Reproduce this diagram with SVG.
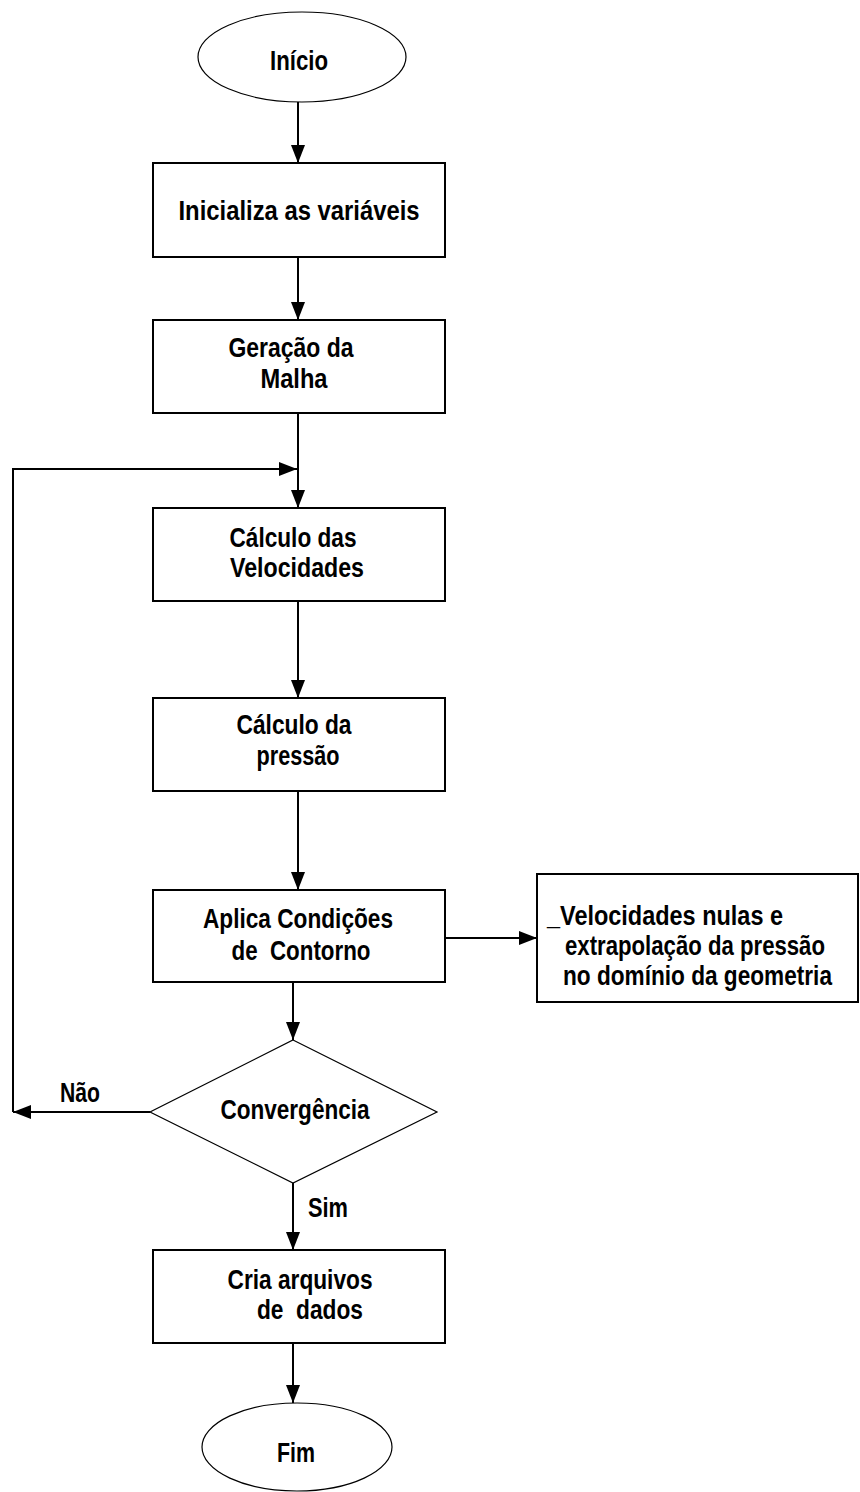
<svg xmlns="http://www.w3.org/2000/svg" width="860" height="1492" viewBox="0 0 860 1492">
<style>
  .bg{fill:#fff}
  .box{fill:#fff;stroke:#000;stroke-width:2}
  .thin{fill:#fff;stroke:#000;stroke-width:1.2}
  .con{fill:none;stroke:#000;stroke-width:2}
  text{font-family:"Liberation Sans Narrow","Liberation Sans",Arial,sans-serif;font-weight:bold;font-size:28px;fill:#000;white-space:pre}
  .c{text-anchor:middle}
</style>
<defs>
  <marker id="ah" viewBox="0 0 18 14" refX="18" refY="7" markerWidth="18" markerHeight="14" markerUnits="userSpaceOnUse" orient="auto">
    <path d="M0,0 L18,7 L0,14 z" fill="#000"/>
  </marker>
</defs>
<rect class="bg" x="0" y="0" width="860" height="1492"/>

<g id="connectors">
  <path class="con" d="M298,102 V163" marker-end="url(#ah)"/>
  <path class="con" d="M298,257 V320" marker-end="url(#ah)"/>
  <path class="con" d="M298,413 V508" marker-end="url(#ah)"/>
  <path class="con" d="M298,601 V698" marker-end="url(#ah)"/>
  <path class="con" d="M298,791 V890" marker-end="url(#ah)"/>
  <path class="con" d="M445,938 H537" marker-end="url(#ah)"/>
  <path class="con" d="M293,982 V1040" marker-end="url(#ah)"/>
  <path class="con" d="M150,1112 H13" marker-end="url(#ah)"/>
  <path class="con" d="M13,1112 V469 H297" marker-end="url(#ah)"/>
  <path class="con" d="M293,1183 V1250" marker-end="url(#ah)"/>
  <path class="con" d="M293,1343 V1403" marker-end="url(#ah)"/>
  <text class="c" x="80" y="1102" textLength="40" lengthAdjust="spacingAndGlyphs">Não</text>
  <text class="c" x="328" y="1217" textLength="40" lengthAdjust="spacingAndGlyphs">Sim</text>
</g>

<g id="inicio">
  <ellipse class="thin" cx="302" cy="57" rx="104" ry="45"/>
  <text class="c" x="299" y="70" textLength="58" lengthAdjust="spacingAndGlyphs">Início</text>
</g>

<g id="inicializa">
  <rect class="box" x="153" y="163" width="292" height="94"/>
  <text class="c" x="299" y="220" textLength="241" lengthAdjust="spacingAndGlyphs">Inicializa as variáveis</text>
</g>

<g id="geracao">
  <rect class="box" x="153" y="320" width="292" height="93"/>
  <text class="c" x="291" y="357" textLength="125" lengthAdjust="spacingAndGlyphs">Geração da</text>
  <text class="c" x="294" y="388" textLength="67" lengthAdjust="spacingAndGlyphs">Malha</text>
</g>

<g id="velocidades">
  <rect class="box" x="153" y="508" width="292" height="93"/>
  <text class="c" x="293" y="547" textLength="127" lengthAdjust="spacingAndGlyphs">Cálculo das</text>
  <text class="c" x="297" y="577" textLength="134" lengthAdjust="spacingAndGlyphs">Velocidades</text>
</g>

<g id="pressao">
  <rect class="box" x="153" y="698" width="292" height="93"/>
  <text class="c" x="294" y="734" textLength="115" lengthAdjust="spacingAndGlyphs">Cálculo da</text>
  <text class="c" x="298" y="765" textLength="83" lengthAdjust="spacingAndGlyphs">pressão</text>
</g>

<g id="contorno">
  <rect class="box" x="153" y="890" width="292" height="92"/>
  <text class="c" x="298" y="928" textLength="190" lengthAdjust="spacingAndGlyphs">Aplica Condições</text>
  <text class="c" x="301" y="960" textLength="139" lengthAdjust="spacingAndGlyphs">de  Contorno</text>
</g>

<g id="nota">
  <rect class="box" x="537" y="874" width="321" height="128"/>
  <text x="547" y="925" textLength="236" lengthAdjust="spacingAndGlyphs">_Velocidades nulas e</text>
  <text x="565" y="955" textLength="260" lengthAdjust="spacingAndGlyphs">extrapolação da pressão</text>
  <text x="563" y="985" textLength="269" lengthAdjust="spacingAndGlyphs">no domínio da geometria</text>
</g>

<g id="convergencia">
  <polygon class="thin" points="293,1040 437,1112 293,1183 150,1112"/>
  <text class="c" x="295" y="1119" textLength="149" lengthAdjust="spacingAndGlyphs">Convergência</text>
</g>

<g id="cria">
  <rect class="box" x="153" y="1250" width="292" height="93"/>
  <text class="c" x="300" y="1289" textLength="145" lengthAdjust="spacingAndGlyphs">Cria arquivos</text>
  <text class="c" x="310" y="1319" textLength="106" lengthAdjust="spacingAndGlyphs">de  dados</text>
</g>

<g id="fim">
  <ellipse class="thin" cx="297" cy="1447" rx="95" ry="44"/>
  <text class="c" x="296" y="1462" textLength="38" lengthAdjust="spacingAndGlyphs">Fim</text>
</g>
</svg>
